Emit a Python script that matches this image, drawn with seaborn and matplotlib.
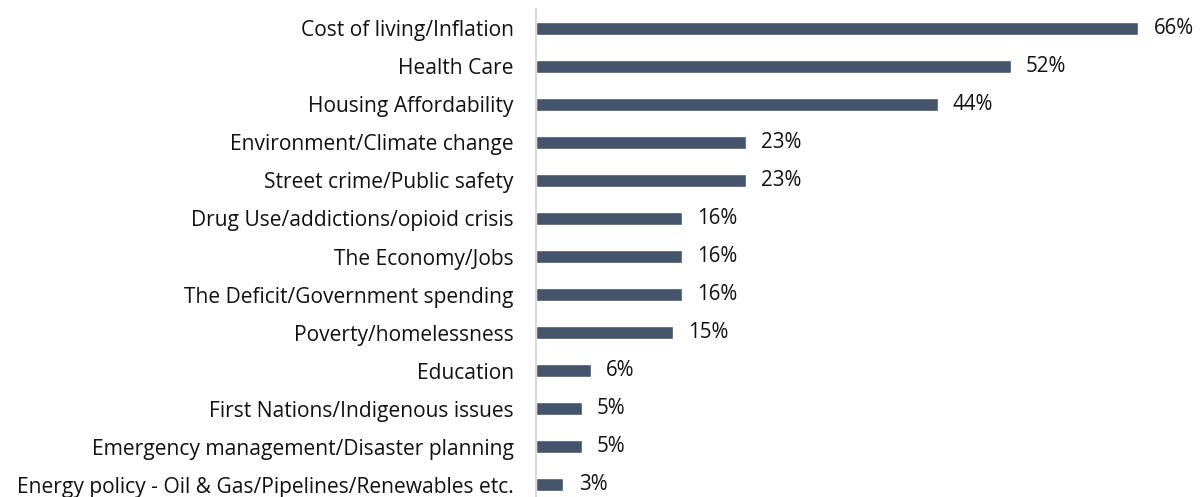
import matplotlib
matplotlib.use("Agg")
import matplotlib.pyplot as plt
import seaborn as sns
import pandas as pd

issues = [
    "Cost of living/Inflation",
    "Health Care",
    "Housing Affordability",
    "Environment/Climate change",
    "Street crime/Public safety",
    "Drug Use/addictions/opioid crisis",
    "The Economy/Jobs",
    "The Deficit/Government spending",
    "Poverty/homelessness",
    "Education",
    "First Nations/Indigenous issues",
    "Emergency management/Disaster planning",
    "Energy policy - Oil & Gas/Pipelines/Renewables etc.",
]
shares = [66, 52, 44, 23, 23, 16, 16, 16, 15, 6, 5, 5, 3]

df = pd.DataFrame({"issue": issues, "share": shares})

sns.set_theme(style="white")
plt.rcParams["font.family"] = ["Open Sans", "DejaVu Sans"]

W, H = 1203, 497
fig = plt.figure(figsize=(W / 100, H / 100), dpi=100)
# axes box in pixel terms: left edge at the category axis, bottom band runs past the canvas
left, right = 536, 1193
top, bottom = 9, 504
ax = fig.add_axes([left / W, 1 - bottom / H, (right - left) / W, (bottom - top) / H])

sns.barplot(data=df, y="issue", x="share", orient="h", color="#44546A",
            saturation=1, width=0.34, ax=ax)

ax.set_xlim(0, 72)
ax.set_ylim(len(issues) - 0.5, -0.5)
ax.set_xlabel("")
ax.set_ylabel("")
ax.set_xticks([])

for side in ["top", "right", "bottom"]:
    ax.spines[side].set_visible(False)
ax.spines["left"].set_color("#D9D9D9")
ax.spines["left"].set_linewidth(1.5)

ax.tick_params(axis="y", length=0, pad=16, labelsize=15.1, labelcolor="#111111")

for i, v in enumerate(shares):
    ax.annotate(f"{v}%", xy=(v, i), xytext=(11, 0), textcoords="offset points",
                ha="left", va="center", fontsize=14.8, color="#111111")

fig.savefig("out.png", dpi=100)
